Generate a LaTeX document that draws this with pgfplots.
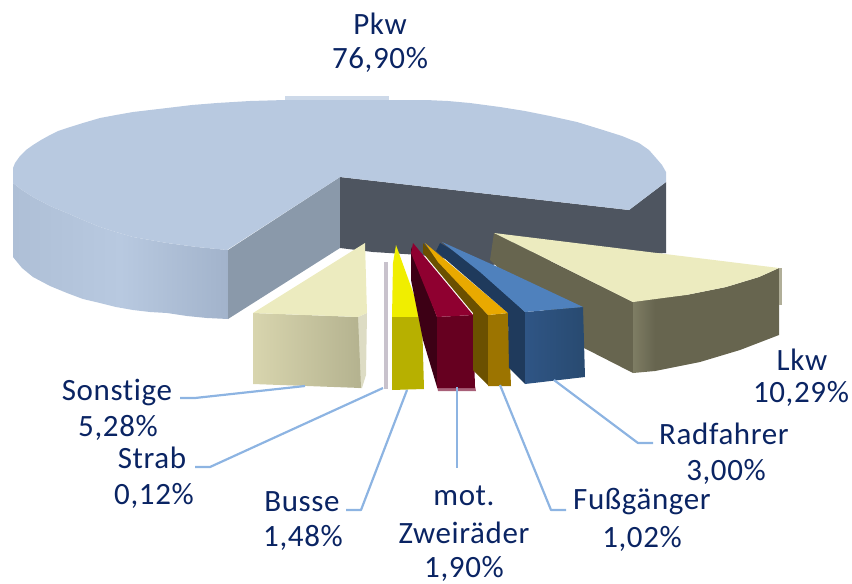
\documentclass[border=0pt]{standalone}
\usepackage{fontspec}
\setmainfont[LetterSpace=2,Ligatures={NoCommon,NoRequired,NoContextual}]{Carlito}
\usepackage{pgfplots}
\pgfplotsset{compat=1.18}
\definecolor{lbl}{HTML}{0A2463}
\definecolor{lead}{HTML}{8DB4E2}
\definecolor{pkwtop}{HTML}{B8C9E0}
\definecolor{pkwstrip}{HTML}{CDD9E9}
\definecolor{pkwa}{HTML}{AEBFD6}
\definecolor{pkwb}{HTML}{B8C9E0}
\definecolor{pkwc}{HTML}{A2B3CB}
\definecolor{cutside}{HTML}{8A99AA}
\definecolor{dark}{HTML}{4E5560}
\definecolor{lkwside}{HTML}{67654F}
\definecolor{lkwlite}{HTML}{7E7D64}
\definecolor{lkwfringe}{HTML}{B0AE98}
\definecolor{lkwtop}{HTML}{ECEBBF}
\definecolor{sonfringe}{HTML}{DDDCC4}
\definecolor{sonl}{HTML}{D8D5AE}
\definecolor{sonr}{HTML}{B4B28F}
\definecolor{sontop}{HTML}{ECEBBF}
\definecolor{strab}{HTML}{C8C2CC}
\definecolor{yeltop}{HTML}{F0EE00}
\definecolor{yelfront}{HTML}{B7B000}
\definecolor{marside}{HTML}{3D0015}
\definecolor{marfringe}{HTML}{A86078}
\definecolor{marfront}{HTML}{660020}
\definecolor{martop}{HTML}{8F0030}
\definecolor{orside}{HTML}{6B5000}
\definecolor{orfront}{HTML}{9C7400}
\definecolor{ortop}{HTML}{E9A900}
\definecolor{blside}{HTML}{1F3A5C}
\definecolor{blfa}{HTML}{2F5585}
\definecolor{blfb}{HTML}{284A70}
\definecolor{bltop}{HTML}{4F81BD}
\tikzset{poly/.style={draw=none,fill=#1},
  lab/.style={anchor=base,text=lbl,font=\fontsize{31}{31}\selectfont,inner sep=0pt,outer sep=0pt}}
\begin{document}
\begin{tikzpicture}
\path[use as bounding box] (0,0) rectangle (852pt,584pt);
\begin{axis}[
  scale only axis,width=852pt,height=584pt,
  xmin=0,xmax=852,ymin=0,ymax=584,y dir=reverse,
  hide axis,no markers,
  /tikz/line join=round]
% Pkw outer side
\addplot[draw=none,left color=pkwa,right color=pkwc,middle color=pkwb] coordinates {
 (13,170)(13,257)(22,268)(33,277)(50,286)(67,293)(83,299)(100,303)(116,307)(133,310)(150,312)(167,313)(187,316)(207,318)(228,319)(228,250)(197,247)(167,243)(150,240)(133,237)(116,232)(100,227)(83,220)(67,213)(50,206)(33,197)(22,190)(13,183)};
% Pkw cut faces
\addplot[poly=cutside] coordinates {(228,250)(340,177)(340,248)(228,319)};
\addplot[poly=dark] coordinates {(340,177)(629,210)(666,182)(666,253)(490,265)(420,255)(373,252)(340,248)};
% Pkw top
\addplot[poly=pkwstrip] coordinates {(285,100)(285,96)(389,96)(389,100)};
\addplot[poly=pkwtop] coordinates {
 (13,183)(13,168)(15,163)(20,156)(26,150)(33,145)(41,140)(50,135)(58,131)(67,128)(83,123)(100,118)(116,115)(133,112)(150,110)(167,108)(192,105)(217,103)(250,101)(285,100)(389,100)(426,100)(448,101)(470,103)(500,107)(525,111)(550,116)(577,122)(603,130)(622,136)(639,143)(649,150)(656,158)(662,165)(666,172)(666,182)(629,210)(340,177)(227,250)(197,247)(167,243)(150,240)(133,237)(116,232)(100,227)(83,220)(67,213)(50,206)(33,197)(22,190)};
% Lkw
\addplot[poly=lkwside] coordinates {(494,233)(490,260)(584,348)(633,373)(633,302)};
\addplot[draw=none,left color=lkwlite,right color=lkwside] coordinates {(633,302)(633,373)(655,371)(655,296)};
\addplot[poly=lkwside] coordinates {(655,297)(655,371)(700,362)(740,350)(779,335)(779,268)(759,277)(726,287)(686,295)};
\addplot[poly=lkwfringe] coordinates {(779,268)(782,268)(782,305)(779,305)};
\addplot[poly=lkwtop] coordinates {(494,233)(779,268)(759,277)(726,287)(686,295)(633,302)(569,270)};
% Sonstige
\addplot[poly=sonfringe] coordinates {(358,317)(367,313)(366,375)(362,388)(358,388)};
\addplot[draw=none,left color=sonl,right color=sonr] coordinates {(253,313)(358,317)(361,388)(253,384)};
\addplot[poly=sontop] coordinates {(253,313)(365,243)(367,313)(358,317)};
% Strab
\addplot[poly=strab] coordinates {(384,262)(388,262)(388,389)(384,389)};
% Busse
\addplot[poly=yeltop] coordinates {(396,245)(422,317)(392,317)(393,263)};
\addplot[poly=yelfront] coordinates {(392,317)(422,317)(424,389)(392,390)};
% mot. Zweiraeder
\addplot[poly=marside] coordinates {(411,247)(437,317)(437,387)(423,340)(411,280)};
\addplot[poly=marfringe] coordinates {(437,386)(475,386)(476,391)(438,391)};
\addplot[poly=marfront] coordinates {(437,317)(473,315)(475,388)(437,388)};
\addplot[poly=martop] coordinates {(413,243)(473,315)(437,317)(411,253)};
% Fussgaenger
\addplot[poly=orside] coordinates {(423,243)(488,315)(488,385)(473,370)(473,313)(423,253)};
\addplot[poly=orfront] coordinates {(488,315)(508,313)(511,386)(488,386)};
\addplot[poly=ortop] coordinates {(425,243)(508,313)(488,315)(438,262)};
% Radfahrer
\addplot[poly=blside] coordinates {(440,243)(480,266)(525,312)(525,384)(509,368)(508,313)(436,251)};
\addplot[draw=none,left color=blfa,right color=blfb] coordinates {(525,312)(583,307)(585,377)(525,384)};
\addplot[poly=bltop] coordinates {(442,242)(500,268)(583,307)(525,312)(480,272)};
% Leader lines
\addplot[lead,line width=2.2pt] coordinates {(180,398)(195,398)(305,386)};
\addplot[lead,line width=2.2pt] coordinates {(195,467)(210,467)(383,388)};
\addplot[lead,line width=2.2pt] coordinates {(346,510)(361,510)(407,390)};
\addplot[lead,line width=2.2pt] coordinates {(457,387)(457,468)};
\addplot[lead,line width=2.2pt] coordinates {(500,385)(551,510)(566,510)};
\addplot[lead,line width=2.2pt] coordinates {(554,380)(638,443)(653,443)};
% Labels
\node[lab] at (axis cs:380,34) {Pkw};
\node[lab] at (axis cs:380,68) {76,90\%};
\node[lab] at (axis cs:802,370) {Lkw};
\node[lab] at (axis cs:801,402) {10,29\%};
\node[lab] at (axis cs:724,444) {Radfahrer};
\node[lab] at (axis cs:726,480) {3,00\%};
\node[lab] at (axis cs:642,509) {Fußgänger};
\node[lab] at (axis cs:642,547) {1,02\%};
\node[lab] at (axis cs:464,505) {mot.};
\node[lab] at (axis cs:464,543) {Zweiräder};
\node[lab] at (axis cs:464,577) {1,90\%};
\node[lab] at (axis cs:302,511) {Busse};
\node[lab] at (axis cs:303,546) {1,48\%};
\node[lab] at (axis cs:152,468) {Strab};
\node[lab] at (axis cs:154,504) {0,12\%};
\node[lab] at (axis cs:117,400) {Sonstige};
\node[lab] at (axis cs:118,436) {5,28\%};
\end{axis}
\end{tikzpicture}
\end{document}
